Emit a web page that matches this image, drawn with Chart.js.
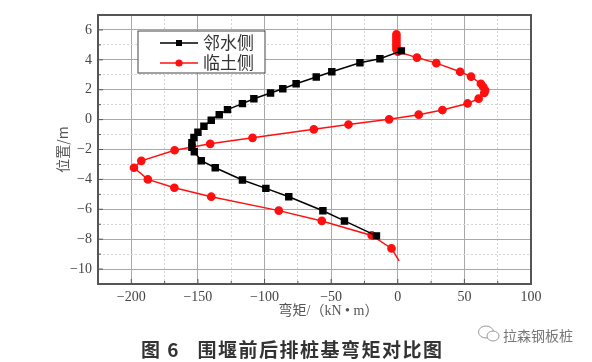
<!DOCTYPE html>
<html>
<head>
<meta charset="utf-8">
<script src="https://cdn.jsdelivr.net/npm/chart.js@4.4.0/dist/chart.umd.min.js"></script>
<style>
  body { margin: 0; background: #fff; }
  #wrap { position: relative; width: 592px; height: 362px; overflow: hidden; }
  #caption {
    position: absolute; left: 141px; top: 335px; white-space: nowrap; line-height: 20px;
    font: bold 19px "Noto Sans CJK SC", sans-serif; color: #333; letter-spacing: 1.5px;
  }
  #mark {
    position: absolute; left: 503px; top: 325px; white-space: nowrap; line-height: 20px;
    font: 14px "Noto Sans CJK SC", sans-serif; color: #777;
  }
  #icon { position: absolute; left: 477px; top: 324px; }
</style>
</head>
<body>
<div id="wrap">
  <canvas id="momentChart" width="592" height="362"></canvas>
  <div id="caption">图 6&nbsp;&nbsp;&nbsp;围堰前后排桩基弯矩对比图</div>
  <svg id="icon" width="24" height="20" viewBox="0 0 24 20">
    <ellipse cx="9" cy="8" rx="7.5" ry="6" fill="none" stroke="#999" stroke-width="1"/>
    <ellipse cx="16" cy="12" rx="6" ry="5" fill="#fff" stroke="#999" stroke-width="1"/>
  </svg>
  <div id="mark">拉森钢板桩</div>
</div>
<script>
// 邻水侧 (black squares), top to bottom
const waterX = [2.7, -13.4, -28.4, -49.5, -61.2, -76.3, -86.3, -95.5, -108, -116.6, -127.8, -134,
  -140, -145.5, -150, -153, -154.5, -154.5, -152.7, -147.5, -137, -116.6, -99, -81.8, -56.2, -40, -16];
const waterY = [4.6, 4.07, 3.8, 3.2, 2.85, 2.4, 2.07, 1.78, 1.4, 1.07, 0.67, 0.33,
  -0.04, -0.45, -0.85, -1.2, -1.55, -1.85, -2.15, -2.75, -3.22, -4.04, -4.6, -5.16, -6.1, -6.78, -7.78];

// 临土侧 (red circles), top to bottom
const soilX = [-1, -1, -1, -1, -1, -1, 0, 14.4, 28.9, 46.8, 55, 62.4, 64.2, 65.6, 64.9, 60.7, 52.4,
  33.5, 15.7, -6.5, -37, -63, -109, -140.8, -167.5, -192.5, -198, -187.6, -167.7, -140, -89.3,
  -57, -19.6, -4.7, 1];
const soilY = [5.7, 5.5, 5.3, 5.1, 4.9, 4.7, 4.55, 4.15, 3.78, 3.2, 2.88, 2.4, 2.18, 1.96, 1.78, 1.4, 1.08,
  0.64, 0.33, 0.02, -0.33, -0.65, -1.22, -1.62, -2.05, -2.76, -3.22, -4.0, -4.56, -5.16, -6.09,
  -6.78, -7.75, -8.62, -9.45];

const seriesNames = ["邻水侧", "临土侧"];
const xMin = -225, xMax = 100, xStep = 25;
const yMin = -11, yMax = 7, yStep = 1;

function toPoints(xs, ys) {
  return xs.map((x, i) => ({ x: x, y: ys[i] }));
}

function fmt(v) {
  return v < 0 ? "\u2212" + Math.abs(v) : String(v);
}

// frame around the plot and small inward ticks
const framePlugin = {
  id: "frame",
  afterDraw(chart) {
    const ctx = chart.ctx, a = chart.chartArea;
    const xs = chart.scales.x, ys = chart.scales.y;
    ctx.save();
    ctx.strokeStyle = "#555";
    ctx.lineWidth = 1;
    xs.ticks.forEach(t => {
      const px = xs.getPixelForValue(t.value);
      const len = t.value % 50 === 0 ? 5 : 3;
      ctx.beginPath();
      ctx.moveTo(px, a.bottom);
      ctx.lineTo(px, a.bottom - len);
      ctx.stroke();
    });
    ys.ticks.forEach(t => {
      const py = ys.getPixelForValue(t.value);
      const len = t.value % 2 === 0 ? 5 : 3;
      ctx.beginPath();
      ctx.moveTo(a.left, py);
      ctx.lineTo(a.left + len, py);
      ctx.stroke();
    });
    ctx.lineWidth = 2;
    ctx.strokeRect(a.left, a.top, a.right - a.left, a.bottom - a.top);
    ctx.restore();
  }
};

// legend box inside the plot, upper left
const boxLegend = {
  id: "boxLegend",
  afterDraw(chart) {
    const ctx = chart.ctx;
    const bx = 138, by = 31, bw = 127, bh = 42;
    ctx.save();
    ctx.fillStyle = "#fff";
    ctx.fillRect(bx, by, bw, bh);
    ctx.strokeStyle = "#444";
    ctx.lineWidth = 1;
    ctx.strokeRect(bx, by, bw, bh);
    chart.data.datasets.forEach((ds, i) => {
      const y = by + 12 + i * 20;
      ctx.strokeStyle = ds.borderColor;
      ctx.lineWidth = 1.5;
      ctx.beginPath();
      ctx.moveTo(160, y);
      ctx.lineTo(198, y);
      ctx.stroke();
      ctx.fillStyle = ds.backgroundColor;
      if (ds.pointStyle === "rect") {
        ctx.fillRect(179 - 3, y - 3, 6, 6);
      } else {
        ctx.beginPath();
        ctx.arc(179, y, 3.6, 0, Math.PI * 2);
        ctx.fill();
      }
      ctx.fillStyle = "#333";
      ctx.font = '17px "Noto Sans CJK SC"';
      ctx.textBaseline = "middle";
      ctx.fillText(ds.label, 203, y);
    });
    ctx.restore();
  }
};

const ctx = document.getElementById("momentChart").getContext("2d");
new Chart(ctx, {
  type: "scatter",
  data: {
    datasets: [{
      label: seriesNames[0],
      data: toPoints(waterX, waterY),
      showLine: true,
      borderColor: "#000",
      backgroundColor: "#000",
      borderWidth: 1.5,
      pointStyle: "rect",
      pointRadius: 4.2,
      pointHoverRadius: 4.2
    }, {
      label: seriesNames[1],
      data: toPoints(soilX, soilY),
      showLine: true,
      borderColor: "#ff1010",
      backgroundColor: "#ff1010",
      borderWidth: 1.5,
      pointStyle: "circle",
      pointRadius: c => (c.dataIndex === soilX.length - 1 ? 0 : 3.6),
      pointHoverRadius: 3.6
    }]
  },
  options: {
    responsive: false,
    animation: false,
    layout: { padding: { left: 50, right: 61, top: 15, bottom: 40 } },
    plugins: { legend: { display: false }, tooltip: { enabled: false } },
    scales: {
      x: {
        type: "linear",
        min: xMin, max: xMax,
        afterFit(s) { s.height = 38; },
        ticks: {
          stepSize: xStep, autoSkip: false, maxRotation: 0, padding: 5,
          color: "#444", font: { family: "Liberation Serif", size: 14 },
          callback: v => (v % 50 === 0 ? fmt(v) : "")
        },
        grid: {
          drawTicks: false,
          color: c => (c.tick && c.tick.value % 50 === 0 ? "#a8a8a8" : "#d4d4d4"),
          lineWidth: 1
        },
        border: {
          color: "#555", width: 2,
          dash: c => (c.tick && c.tick.value % 50 !== 0 ? [2, 2] : [])
        },
        title: {
          display: true, text: "\u2003\u2003弯矩/（kN • m）", color: "#555",
          font: { family: "'Liberation Serif', 'Noto Sans CJK SC'", size: 14 },
          padding: { top: 0, bottom: 2 }
        }
      },
      y: {
        type: "linear",
        min: yMin, max: yMax,
        afterFit(s) { s.width = 48; },
        ticks: {
          stepSize: yStep, autoSkip: false, padding: 6,
          color: "#444", font: { family: "Liberation Serif", size: 14 },
          callback: v => (v % 2 === 0 ? fmt(v) : "")
        },
        grid: {
          drawTicks: false,
          color: c => (c.tick && c.tick.value % 2 === 0 ? "#a8a8a8" : "#d4d4d4"),
          lineWidth: 1
        },
        border: {
          color: "#555", width: 2,
          dash: c => (c.tick && c.tick.value % 2 !== 0 ? [2, 2] : [])
        },
        title: {
          display: true, text: "位置/m", color: "#555",
          font: { family: "Noto Sans CJK SC", size: 14 },
          padding: { top: 4, bottom: 0 }
        }
      }
    }
  },
  plugins: [framePlugin, boxLegend]
});
</script>
</body>
</html>
